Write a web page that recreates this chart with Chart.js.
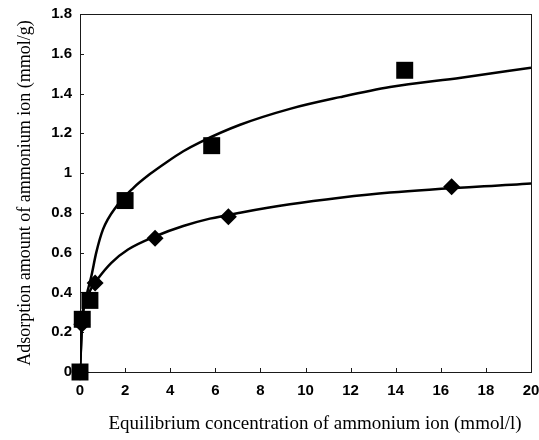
<!DOCTYPE html>
<html>
<head>
<meta charset="utf-8">
<script src="https://cdn.jsdelivr.net/npm/chart.js@4/dist/chart.umd.min.js"></script>
<style>
html,body{margin:0;padding:0;background:#fff;}
#wrap{width:539px;height:440px;position:relative;}
</style>
</head>
<body>
<div id="wrap"><canvas id="c" width="539" height="440"></canvas></div>
<script>
// ---- data ----
const xTicks = [0, 2, 4, 6, 8, 10, 12, 14, 16, 18, 20];
const yTicks = [0, 0.2, 0.4, 0.6, 0.8, 1.0, 1.2, 1.4, 1.6, 1.8];

// squares (upper series): measured points
const squareX = [0, 0.10, 0.44, 2.0, 5.84, 14.4];
const squareY = [0, 0.265, 0.36, 0.862, 1.138, 1.517];
// diamonds (lower series): measured points
const diamondX = [0, 0.08, 0.67, 3.33, 6.58, 16.48];
const diamondY = [0, 0.24, 0.448, 0.672, 0.781, 0.931];

// fitted curves
const squareCurveX = [0, 0.10, 0.30, 0.50, 0.72, 1.02, 1.63, 2.36, 3.10, 3.84, 4.58, 5.32, 7.1, 9.31, 11.53, 13.75, 16.9, 20];
const squareCurveY = [0, 0.27, 0.39, 0.48, 0.60, 0.717, 0.835, 0.925, 0.995, 1.055, 1.11, 1.155, 1.243, 1.323, 1.382, 1.433, 1.48, 1.53];
const diamondCurveX = [0, 0.10, 0.45, 0.8, 1.39, 2.13, 3.4, 4.58, 5.76, 7.1, 9.31, 11.53, 13.75, 20];
const diamondCurveY = [0, 0.25, 0.41, 0.47, 0.549, 0.616, 0.685, 0.734, 0.771, 0.801, 0.843, 0.876, 0.902, 0.948];

const xTitle = 'Equilibrium concentration of ammonium ion (mmol/l)';
const yTitle = 'Adsorption amount of ammonium ion (mmol/g)';

const pts = (xs, ys) => xs.map((x, i) => ({x: x, y: ys[i]}));

const framePlugin = {
  id: 'frame',
  beforeDatasetsDraw(chart) {
    const {ctx, chartArea: a, scales} = chart;
    ctx.save();
    ctx.strokeStyle = '#1a1a1a';
    ctx.lineWidth = 1;
    ctx.strokeRect(Math.round(a.left) + 0.5, Math.round(a.top) + 0.5,
                   Math.round(a.right - a.left), Math.round(a.bottom - a.top));
    ctx.beginPath();
    xTicks.forEach(v => {
      const px = Math.round(scales.x.getPixelForValue(v)) + 0.5;
      ctx.moveTo(px, a.bottom);
      ctx.lineTo(px, a.bottom - 4);
    });
    yTicks.forEach(v => {
      const py = Math.round(scales.y.getPixelForValue(v)) + 0.5;
      ctx.moveTo(a.left, py);
      ctx.lineTo(a.left + 4, py);
    });
    ctx.stroke();
    ctx.restore();
  }
};

const tickFont = {family: '"Liberation Sans", Arial, sans-serif', size: 15, weight: 'bold'};
const xTitleFont = {family: '"Liberation Serif", "Times New Roman", serif', size: 19, weight: 'normal'};
const yTitleFont = {family: '"Liberation Serif", "Times New Roman", serif', size: 18, weight: 'normal'};

new Chart(document.getElementById('c'), {
  type: 'scatter',
  data: {
    datasets: [
      {
        label: 'squares', data: pts(squareX, squareY), order: 0,
        pointStyle: 'rect', pointRadius: 12, pointHoverRadius: 12,
        backgroundColor: '#000', borderColor: '#000', borderWidth: 0,
        showLine: false, clip: false
      },
      {
        label: 'diamonds', data: pts(diamondX, diamondY), order: 0,
        pointStyle: 'rectRot', pointRadius: 8.5, pointHoverRadius: 8.5,
        backgroundColor: '#000', borderColor: '#000', borderWidth: 0,
        showLine: false, clip: false
      },
      {
        label: 'square fit', data: pts(squareCurveX, squareCurveY), order: 1,
        showLine: true, pointRadius: 0, borderColor: '#000', borderWidth: 2.5,
        cubicInterpolationMode: 'monotone', fill: false
      },
      {
        label: 'diamond fit', data: pts(diamondCurveX, diamondCurveY), order: 1,
        showLine: true, pointRadius: 0, borderColor: '#000', borderWidth: 2.5,
        cubicInterpolationMode: 'monotone', fill: false
      }
    ]
  },
  options: {
    responsive: false,
    animation: false,
    devicePixelRatio: 1,
    layout: {autoPadding: false, padding: {left: 0, right: 8, top: 14, bottom: 0}},
    plugins: {legend: {display: false}, tooltip: {enabled: false}},
    scales: {
      x: {
        type: 'linear', min: 0, max: 20,
        afterBuildTicks: s => { s.ticks = xTicks.map(v => ({value: v})); },
        afterFit: s => { s.height = 68; s.paddingLeft = 0; s.paddingRight = 0; },
        grid: {display: false, drawTicks: false},
        border: {display: false},
        ticks: {color: '#000', font: tickFont, padding: 10, maxRotation: 0,
                callback: v => String(v)},
        title: {display: true, text: '    ' + xTitle, color: '#000', font: xTitleFont,
                padding: {top: 0, bottom: 5}}
      },
      y: {
        type: 'linear', min: 0, max: 1.8,
        afterBuildTicks: s => { s.ticks = yTicks.map(v => ({value: v})); },
        afterFit: s => { s.width = 80; s.paddingTop = 0; s.paddingBottom = 0; },
        grid: {display: false, drawTicks: false},
        border: {display: false},
        ticks: {color: '#000', font: tickFont, padding: 8,
                callback: v => String(Math.round(v * 10) / 10)},
        title: {display: true, text: yTitle, color: '#000', font: yTitleFont,
                padding: {top: 14, bottom: 0}}
      }
    }
  },
  plugins: [framePlugin]
});
</script>
</body>
</html>
